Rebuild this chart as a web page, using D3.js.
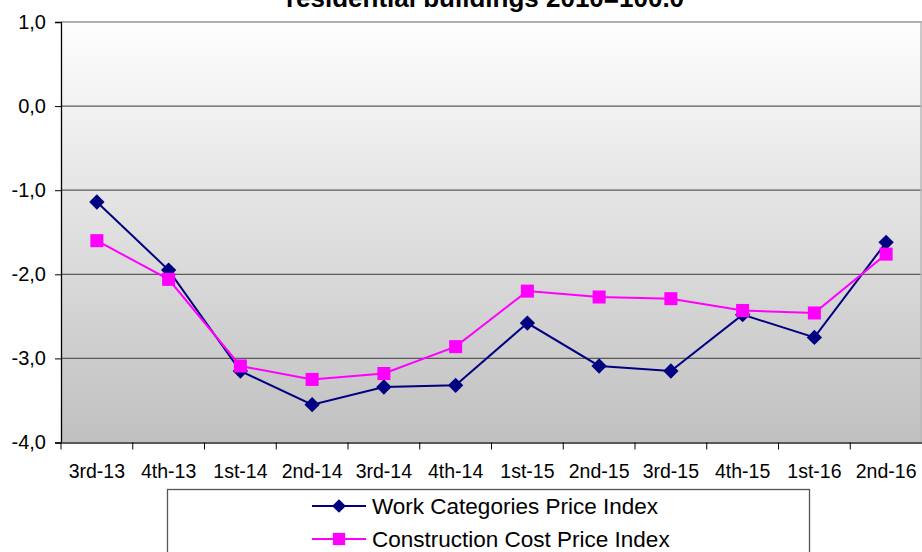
<!DOCTYPE html>
<html>
<head>
<meta charset="utf-8">
<script src="https://cdn.jsdelivr.net/npm/d3@7"></script>
<style>
  body { margin: 0; background: #fff; }
  svg { display: block; font-family: "Liberation Sans", Arial, sans-serif; }
</style>
</head>
<body>
<div id="chart"></div>
<script>
// quarters on the x axis
var quarters = ["3rd-13", "4th-13", "1st-14", "2nd-14", "3rd-14", "4th-14",
                "1st-15", "2nd-15", "3rd-15", "4th-15", "1st-16", "2nd-16"];
// series values (% change)
var workIndex = [-1.14, -1.95, -3.15, -3.55, -3.34, -3.32, -2.58, -3.09, -3.15, -2.48, -2.75, -1.62];
var costIndex = [-1.60, -2.06, -3.09, -3.25, -3.18, -2.86, -2.20, -2.27, -2.29, -2.43, -2.46, -1.76];
var yTicks = [1, 0, -1, -2, -3, -4];
var seriesNames = ["Work Categories Price Index", "Construction Cost Price Index"];
var titleText = "residential buildings 2010=100.0";

var width = 922, height = 552;
var plot = {left: 61, right: 922, top: 22, bottom: 442.5};

var svg = d3.select("#chart").append("svg")
  .attr("width", width)
  .attr("height", height);

var defs = svg.append("defs");
var grad = defs.append("linearGradient")
  .attr("id", "bg").attr("x1", 0).attr("y1", 0).attr("x2", 0).attr("y2", 1);
grad.append("stop").attr("offset", "0%").attr("stop-color", "#fefefe");
grad.append("stop").attr("offset", "100%").attr("stop-color", "#c0c0c0");

var x = d3.scaleBand().domain(quarters).range([plot.left, plot.right]);
var y = d3.scaleLinear().domain([-4, 1]).range([plot.bottom, plot.top]);
var fmt = d3.formatLocale({decimal: ",", thousands: ".", grouping: [3], currency: ["", ""], minus: "-"}).format(".1f");

// plot background
svg.append("rect")
  .attr("x", plot.left).attr("y", plot.top)
  .attr("width", plot.right - plot.left).attr("height", plot.bottom - plot.top)
  .attr("fill", "url(#bg)");

// gridlines
svg.append("g").selectAll("line")
  .data(yTicks.filter(function(d) { return d > -4 && d < 1; }))
  .enter().append("line")
    .attr("x1", plot.left).attr("x2", plot.right)
    .attr("y1", function(d) { return y(d); })
    .attr("y2", function(d) { return y(d); })
    .attr("stroke", "#5a5a5a").attr("stroke-width", 1.3);

// top and right border
svg.append("line")
  .attr("x1", plot.left).attr("x2", plot.right)
  .attr("y1", y(1)).attr("y2", y(1))
  .attr("stroke", "#b0b0b0").attr("stroke-width", 2);
svg.append("line")
  .attr("x1", plot.right - 1).attr("x2", plot.right - 1)
  .attr("y1", plot.top).attr("y2", plot.bottom)
  .attr("stroke", "#b8b8b8").attr("stroke-width", 1.5);

// y axis
var yAxis = svg.append("g")
  .attr("transform", "translate(" + plot.left + ",0)")
  .call(d3.axisLeft(y).tickValues(yTicks).tickSize(6).tickPadding(9).tickFormat(fmt));
yAxis.select(".domain").attr("stroke", "#000").attr("stroke-width", 1.3);
yAxis.selectAll(".tick line").attr("stroke", "#000");
yAxis.selectAll("text").attr("font-size", 20).attr("fill", "#000")
  .attr("font-family", "Liberation Sans, Arial, sans-serif");

// x axis
var xAxis = svg.append("g")
  .attr("transform", "translate(0," + plot.bottom + ")")
  .call(d3.axisBottom(x).tickSize(0).tickPadding(22));
xAxis.select(".domain").attr("stroke", "#5a5a5a").attr("stroke-width", 2);
xAxis.selectAll("text").attr("font-size", 19.5).attr("fill", "#000")
  .attr("font-family", "Liberation Sans, Arial, sans-serif");
// tick marks between categories
svg.append("g").selectAll("line")
  .data(quarters)
  .enter().append("line")
    .attr("x1", function(d) { return x(d); })
    .attr("x2", function(d) { return x(d); })
    .attr("y1", plot.bottom).attr("y2", plot.bottom + 7)
    .attr("stroke", "#000");

// lines
var line = d3.line()
  .x(function(d, i) { return x(quarters[i]) + x.bandwidth() / 2; })
  .y(function(d) { return y(d); });

svg.append("path").datum(workIndex)
  .attr("d", line).attr("fill", "none")
  .attr("stroke", "#000080").attr("stroke-width", 2);
svg.append("path").datum(costIndex)
  .attr("d", line).attr("fill", "none")
  .attr("stroke", "#ff00ff").attr("stroke-width", 2);

var diamond = d3.symbol().type(d3.symbolDiamond2).size(150);
var square = d3.symbol().type(d3.symbolSquare).size(170);

svg.append("g").selectAll("path")
  .data(workIndex)
  .enter().append("path")
    .attr("d", diamond)
    .attr("transform", function(d, i) {
      return "translate(" + (x(quarters[i]) + x.bandwidth() / 2) + "," + y(d) + ")";
    })
    .attr("fill", "#000080");

svg.append("g").selectAll("path")
  .data(costIndex)
  .enter().append("path")
    .attr("d", square)
    .attr("transform", function(d, i) {
      return "translate(" + (x(quarters[i]) + x.bandwidth() / 2) + "," + y(d) + ")";
    })
    .attr("fill", "#ff00ff");

// title (first line is outside the picture)
svg.append("text")
  .attr("x", 485).attr("y", 7)
  .attr("text-anchor", "middle")
  .attr("font-size", 26).attr("font-weight", "bold")
  .text(titleText);

// legend
var legend = svg.append("g");
legend.append("rect")
  .attr("x", 167.5).attr("y", 489.5)
  .attr("width", 642).attr("height", 80)
  .attr("fill", "#fff").attr("stroke", "#555").attr("stroke-width", 1.3);

var legendRows = [
  {name: seriesNames[0], color: "#000080", sym: d3.symbol().type(d3.symbolDiamond2).size(120), y: 506},
  {name: seriesNames[1], color: "#ff00ff", sym: d3.symbol().type(d3.symbolSquare).size(150), y: 539}
];
var row = legend.selectAll("g.row").data(legendRows).enter().append("g")
  .attr("transform", function(d) { return "translate(0," + d.y + ")"; });
row.append("line")
  .attr("x1", 312).attr("x2", 366).attr("y1", 0).attr("y2", 0)
  .attr("stroke", function(d) { return d.color; }).attr("stroke-width", 2);
row.append("path")
  .attr("d", function(d) { return d.sym(); })
  .attr("transform", "translate(339,0)")
  .attr("fill", function(d) { return d.color; });
row.append("text")
  .attr("x", 372).attr("y", 0).attr("dy", "0.35em")
  .attr("font-size", 22.5)
  .text(function(d) { return d.name; });
</script>
</body>
</html>
